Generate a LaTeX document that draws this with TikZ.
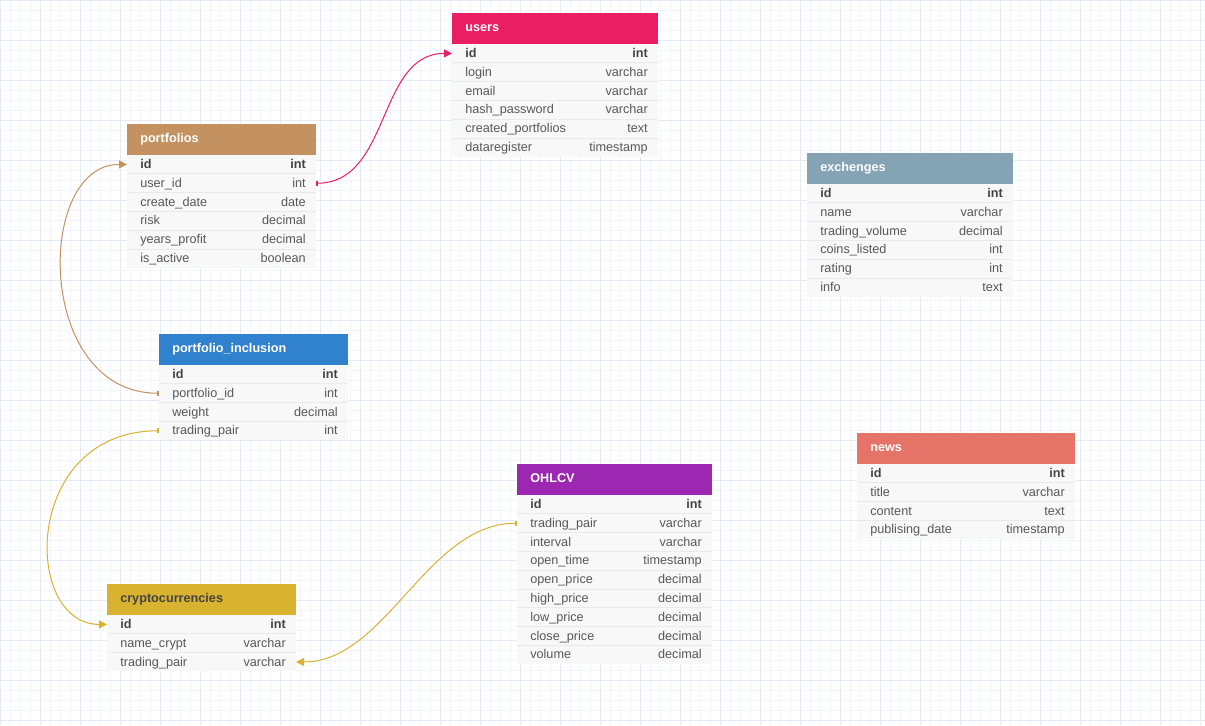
\documentclass[tikz,border=0pt]{standalone}
\usepackage{fontspec}
\setmainfont{Liberation Sans}
\usetikzlibrary{positioning,calc,arrows.meta}

\definecolor{gridminor}{RGB}{243,245,251}
\definecolor{gridmajor}{RGB}{229,234,247}
\definecolor{bodyfill}{RGB}{248,248,249}
\definecolor{rowline}{RGB}{234,234,237}
\definecolor{fieldgray}{RGB}{88,88,88}
\definecolor{idgray}{RGB}{68,68,68}
\definecolor{usershead}{RGB}{233,30,99}
\definecolor{portfolioshead}{RGB}{196,146,96}
\definecolor{inclusionhead}{RGB}{49,130,206}
\definecolor{cryptohead}{RGB}{217,178,47}
\definecolor{ohlcvhead}{RGB}{156,39,176}
\definecolor{exchengeshead}{RGB}{132,163,181}
\definecolor{newshead}{RGB}{229,115,104}

\tikzset{
  tablehead/.style={anchor=north west, minimum height=23.25pt, inner sep=0pt, outer sep=0pt},
  titletext/.style={anchor=west, inner sep=0pt, text height=7pt, text depth=2pt, font=\fontsize{9.5}{11}\selectfont\bfseries},
  rowbox/.style={anchor=north west, minimum height=14.1pt, inner sep=0pt, outer sep=0pt, fill=bodyfill},
  fieldtext/.style={anchor=west, inner sep=0pt, text height=7pt, text depth=2pt, text=fieldgray, font=\fontsize{9.5}{11}\selectfont},
  typetext/.style={anchor=east, inner sep=0pt, text height=7pt, text depth=2pt, text=fieldgray, font=\fontsize{9.5}{11}\selectfont},
  rowsep/.style={draw=rowline, line width=0.5pt},
  link/.style={line width=0.75pt, arrows={Rectangle[length=1.5pt,width=3.5pt]-Triangle[length=6pt,width=6pt]}}
}

% table: name, x, y, width (px), header colour, title colour, title, rows
\newcommand{\dbtable}[8]{%
  \node[tablehead, fill=#5, minimum width=#4*0.75pt] (#1) at (#2,#3) {};
  \node[titletext, text=#6] (#1-title) at ([xshift=9.75pt]#1.west) {#7};
  \foreach \fld/\typ [count=\i] in {#8} {
    \node[rowbox, minimum width=#4*0.75pt] (#1-\i) at ($(#1.south west)+(0,{(\i-1)*18.8})$) {};
    \node[fieldtext] (#1-f\i) at ([xshift=9.75pt,yshift=-0.6pt]#1-\i.west) {\ifnum\i=1 \color{idgray}\bfseries\fi\fld};
    \node[typetext] (#1-t\i) at ([xshift=-7.5pt,yshift=-0.6pt]#1-\i.east) {\ifnum\i=1 \color{idgray}\bfseries\fi\typ};
    \ifnum\i>1 \draw[rowsep] (#1-\i.north west) -- (#1-\i.north east); \fi
  }
}

\begin{document}
\begin{tikzpicture}[x=0.75pt, y=-0.75pt]
    \useasboundingbox (0,0) rectangle (1205,725);

    % Grid paper
    \fill[white] (0,0) rectangle (1205,725);
    \draw[gridminor, line width=0.4pt] (0,0) grid[step=7.5pt] (1205,725);
    \draw[gridmajor, line width=0.4pt] (0,0) grid[step=30pt] (1205,725);

    % Tables
    \dbtable{users}{452}{13}{206}{usershead}{white}{users}{id/int, login/varchar, email/varchar, hash\_password/varchar, created\_portfolios/text, dataregister/timestamp}
    \dbtable{pf}{127}{124}{189}{portfolioshead}{white}{portfolios}{id/int, user\_id/int, create\_date/date, risk/decimal, years\_profit/decimal, is\_active/boolean}
    \dbtable{incl}{159}{334}{189}{inclusionhead}{white}{portfolio\_inclusion}{id/int, portfolio\_id/int, weight/decimal, trading\_pair/int}
    \dbtable{crypto}{107}{584}{189}{cryptohead}{idgray}{cryptocurrencies}{id/int, name\_crypt/varchar, trading\_pair/varchar}
    \dbtable{ohlcv}{517}{464}{195}{ohlcvhead}{white}{OHLCV}{id/int, trading\_pair/varchar, interval/varchar, open\_time/timestamp, open\_price/decimal, high\_price/decimal, low\_price/decimal, close\_price/decimal, volume/decimal}
    \dbtable{exch}{807}{153}{206}{exchengeshead}{white}{exchenges}{id/int, name/varchar, trading\_volume/decimal, coins\_listed/int, rating/int, info/text}
    \dbtable{news}{857}{433}{218}{newshead}{white}{news}{id/int, title/varchar, content/text, publising\_date/timestamp}

    % Relations
    \draw[link, usershead] (pf-2.east) .. controls +(75,0) and +(-75,0) .. (users-1.west);
    \draw[link, portfolioshead] (incl-2.west) .. controls +(-124,0) and +(-92,0) .. (pf-1.west);
    \draw[link, cryptohead] (incl-4.west) .. controls +(-137,0) and +(-85,0) .. (crypto-1.west);
    \draw[link, cryptohead] (ohlcv-2.west) .. controls +(-90,0) and +(90,0) .. (crypto-3.east);
\end{tikzpicture}
\end{document}
